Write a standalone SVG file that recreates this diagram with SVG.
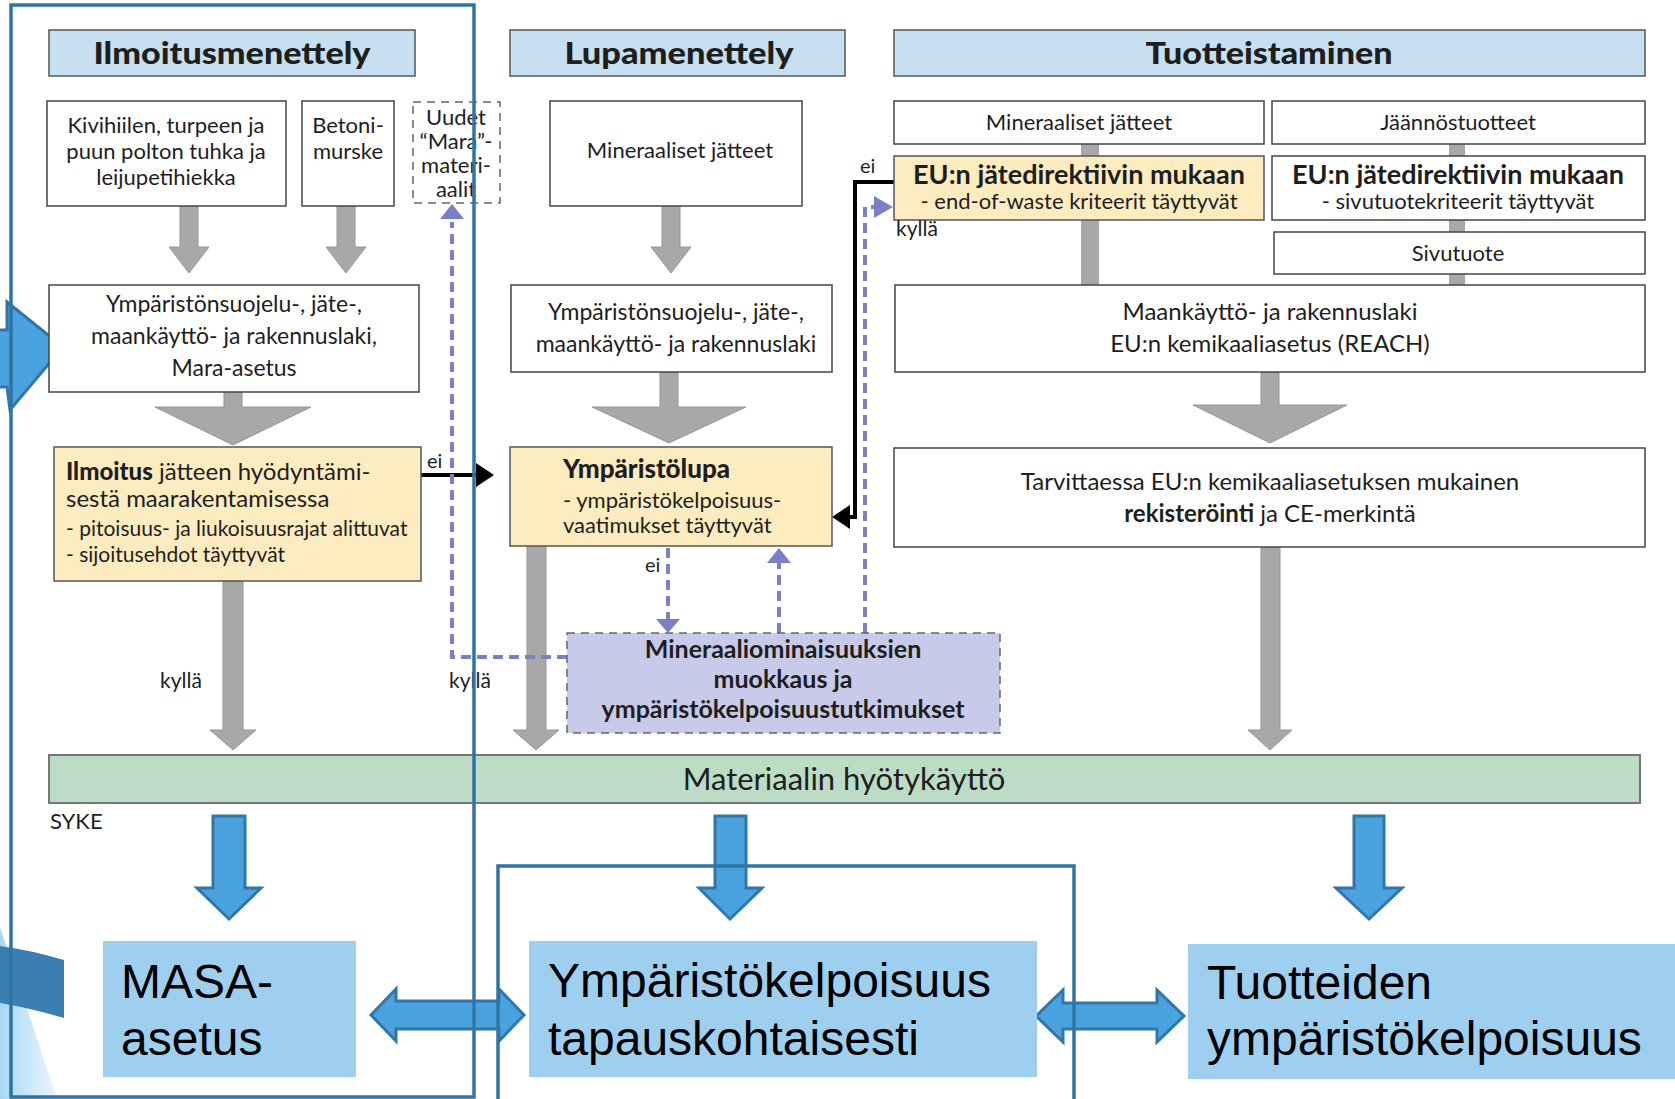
<svg xmlns="http://www.w3.org/2000/svg" width="1675" height="1099" viewBox="0 0 1675 1099">
<defs>
<style>
.t{font-family:Lato,"Liberation Sans",sans-serif;fill:#1e1e1e;font-size:22px}
.c{text-anchor:middle}
.b{font-weight:bold}
.k{font-weight:900}
.box{fill:#fff;stroke:#444;stroke-width:1.5}
.hdr{fill:#c6dff1;stroke:#555;stroke-width:1.5}
.yel{fill:#fcecbf;stroke:#555;stroke-width:1.5}
.ga{fill:#a8a8a8;stroke:#969696;stroke-width:1}
.pd{stroke:#7b7fc4;stroke-width:4;stroke-dasharray:10 6;fill:none}
.blk{stroke:#000;stroke-width:4;fill:none}
.ba{fill:#4aa3df;stroke:#3176a8;stroke-width:3;stroke-linejoin:miter}
.bb{fill:#9fcfee}
.big{font-family:"Liberation Sans",Arial,sans-serif;font-size:48px;fill:#000}
.frame{fill:none;stroke:#2e75a6;stroke-width:3.5}
</style>
<linearGradient id="lg" x1="0" y1="0" x2="1" y2="0">
<stop offset="0" stop-color="#a9d8f4"/>
<stop offset="1" stop-color="#eaf6fd"/>
</linearGradient>
</defs>
<rect width="1675" height="1099" fill="#fff"/>

<!-- background decorations -->
<g id="decor">
<polygon points="0,927 57,1099 0,1099" fill="url(#lg)"/>
<path d="M0,946 Q30,950 64,960 L64,1018 Q30,1008 0,1003 Z" fill="#3a7fb0"/>
<polygon points="-5,330 7,330 7,302 63,347 10,410 7,387 -5,387" class="ba"/>
</g>

<!-- headers -->
<g id="hdr1"><rect x="49" y="30" width="366" height="46" class="hdr"/><text x="232" y="64" class="t c k" style="font-size:30px" textLength="277" lengthAdjust="spacingAndGlyphs">Ilmoitusmenettely</text></g>
<g id="hdr2"><rect x="510" y="30" width="335" height="46" class="hdr"/><text x="679" y="64" class="t c k" style="font-size:30px" textLength="229" lengthAdjust="spacingAndGlyphs">Lupamenettely</text></g>
<g id="hdr3"><rect x="894" y="30" width="751" height="46" class="hdr"/><text x="1269" y="64" class="t c k" style="font-size:30px" textLength="247" lengthAdjust="spacingAndGlyphs">Tuotteistaminen</text></g>

<!-- gray connectors -->
<g id="connectors">
<rect x="1081" y="144" width="18" height="141" fill="#a8a8a8"/>
<rect x="1449" y="144" width="16" height="141" fill="#a8a8a8"/>
<polygon class="ga" points="180,206 198,206 198,247 209,247 189,273 169,247 180,247"/>
<polygon class="ga" points="337,206 355,206 355,247 366,247 346,273 326,247 337,247"/>
<polygon class="ga" points="662,206 680,206 680,247 691,247 671,273 651,247 662,247"/>
<polygon class="ga" points="224,392 242,392 242,407 311,407 233,445 155,407 224,407"/>
<polygon class="ga" points="660,372 678,372 678,407 746,407 669,443 592,407 660,407"/>
<polygon class="ga" points="1261,372 1279,372 1279,405 1347,405 1270,443 1193,405 1261,405"/>
<polygon class="ga" points="223,581 243,581 243,730 256,730 233,750 210,730 223,730"/>
<polygon class="ga" points="527,546 546,546 546,730 559,730 536,750 513,730 527,730"/>
<polygon class="ga" points="1261,547 1280,547 1280,730 1292,730 1270,750 1248,730 1261,730"/>

<!-- black -->
<line x1="421" y1="475" x2="478" y2="475" class="blk"/>
<polygon points="476,463 494,475 476,487" fill="#000"/>
<polyline points="894,182 855,182 855,517 848,517" class="blk"/>
<polygon points="850,505 832,517 850,529" fill="#000"/>

<!-- purple dashed -->
<polyline points="567,657 452,657 452,222" class="pd"/>
<polygon points="440,219 452,204 464,219" fill="#7b7fc4"/>
<line x1="668" y1="548" x2="668" y2="620" class="pd"/>
<polygon points="656,619 668,633 680,619" fill="#7b7fc4"/>
<line x1="779" y1="633" x2="779" y2="563" class="pd"/>
<polygon points="767,563 779,548 791,563" fill="#7b7fc4"/>
<polyline points="865,633 865,207 876,207" class="pd"/>
<polygon points="874,196 893,207 874,218" fill="#7b7fc4"/>

<!-- blue arrows -->
<polygon class="ba" points="213,816 245,816 245,888 261,888 229,919 197,888 213,888"/>
<polygon class="ba" points="715,816 746,816 746,888 762,888 730,919 699,888 715,888"/>
<polygon class="ba" points="1354,816 1384,816 1384,888 1402,888 1369,919 1336,888 1354,888"/>
<polygon class="ba" points="371,1015 396,989 396,1001 499,1001 499,989 524,1015 499,1041 499,1029 396,1029 396,1041"/>
<polygon class="ba" points="1036,1016 1063,990 1063,1003 1157,1003 1157,990 1184,1016 1157,1042 1157,1029 1063,1029 1063,1042"/>
</g>

<!-- nodes column 1 -->
<g id="n-kivi"><rect x="47" y="101" width="239" height="105" class="box"/>
<text class="t c" x="166" y="133">Kivihiilen, turpeen ja</text>
<text class="t c" x="166" y="159">puun polton tuhka ja</text>
<text class="t c" x="166" y="185">leijupetihiekka</text></g>
<g id="n-betoni"><rect x="302" y="101" width="92" height="105" class="box"/>
<text class="t c" x="348" y="133">Betoni-</text>
<text class="t c" x="348" y="159">murske</text></g>
<g id="n-uudet"><rect x="413" y="102" width="87" height="101" fill="#fff" stroke="#666" stroke-width="1.5" stroke-dasharray="8 6"/>
<text class="t c" x="456" y="125">Uudet</text>
<text class="t c" x="456" y="149">“Mara”-</text>
<text class="t c" x="456" y="173">materi-</text>
<text class="t c" x="456" y="197">aalit</text></g>
<g id="n-lait1"><rect x="49" y="285" width="370" height="107" class="box"/>
<text class="t c" x="234" y="312" style="font-size:23px">Ympäristönsuojelu-, jäte-,</text>
<text class="t c" x="234" y="344" style="font-size:23px">maankäyttö- ja rakennuslaki,</text>
<text class="t c" x="234" y="376" style="font-size:23px">Mara-asetus</text></g>
<g id="n-ilmoitus"><rect x="54" y="447" width="367" height="134" class="yel"/>
<text class="t" x="66" y="480" style="font-size:24px"><tspan class="k">Ilmoitus</tspan> jätteen hyödyntämi-</text>
<text class="t" x="66" y="507" style="font-size:24px">sestä maarakentamisessa</text>
<text class="t" x="66" y="536" style="font-size:21px">- pitoisuus- ja liukoisuusrajat alittuvat</text>
<text class="t" x="66" y="562" style="font-size:21px">- sijoitusehdot täyttyvät</text></g>

<!-- column 2 -->
<g id="n-min2"><rect x="550" y="101" width="252" height="105" class="box"/>
<text class="t c" x="680" y="158">Mineraaliset jätteet</text></g>
<g id="n-lait2"><rect x="511" y="285" width="321" height="87" class="box"/>
<text class="t c" x="676" y="320" style="font-size:23px">Ympäristönsuojelu-, jäte-,</text>
<text class="t c" x="676" y="352" style="font-size:23px">maankäyttö- ja rakennuslaki</text></g>
<g id="n-lupa"><rect x="510" y="447" width="322" height="99" class="yel"/>
<text class="t k" x="563" y="478" style="font-size:26px">Ympäristölupa</text>
<text class="t" x="563" y="508" style="font-size:22px">- ympäristökelpoisuus-</text>
<text class="t" x="563" y="533" style="font-size:22px">vaatimukset täyttyvät</text></g>
<g id="n-muokkaus"><rect x="567" y="633" width="433" height="100" fill="#c8cae9" stroke="#666" stroke-width="1.5" stroke-dasharray="8 6"/>
<text class="t c b" x="783" y="658" style="font-size:25px">Mineraaliominaisuuksien</text>
<text class="t c b" x="783" y="688" style="font-size:25px">muokkaus ja</text>
<text class="t c b" x="783" y="718" style="font-size:25px">ympäristökelpoisuustutkimukset</text></g>

<!-- column 3 -->
<g id="n-min3"><rect x="894" y="101" width="370" height="43" class="box"/>
<text class="t c" x="1079" y="130">Mineraaliset jätteet</text></g>
<g id="n-jaan"><rect x="1272" y="101" width="373" height="43" class="box"/>
<text class="t c" x="1458" y="130">Jäännöstuotteet</text></g>
<g id="n-eu1"><rect x="894" y="156" width="370" height="64" class="yel"/>
<text class="t c b" x="1079" y="184" style="font-size:27px">EU:n jätedirektiivin mukaan</text>
<text class="t c" x="1079" y="209">- end-of-waste kriteerit täyttyvät</text></g>
<g id="n-eu2"><rect x="1272" y="156" width="373" height="64" class="box"/>
<text class="t c b" x="1458" y="184" style="font-size:27px">EU:n jätedirektiivin mukaan</text>
<text class="t c" x="1458" y="209">- sivutuotekriteerit täyttyvät</text></g>
<g id="n-sivu"><rect x="1274" y="232" width="371" height="42" class="box"/>
<text class="t c" x="1458" y="261">Sivutuote</text></g>
<g id="n-maank"><rect x="895" y="285" width="750" height="87" class="box"/>
<text class="t c" x="1270" y="320" style="font-size:24px">Maankäyttö- ja rakennuslaki</text>
<text class="t c" x="1270" y="352" style="font-size:24px">EU:n kemikaaliasetus (REACH)</text></g>
<g id="n-tarv"><rect x="894" y="448" width="751" height="99" class="box"/>
<text class="t c" x="1270" y="490" style="font-size:24px">Tarvittaessa EU:n kemikaaliasetuksen mukainen</text>
<text class="t c" x="1270" y="522" style="font-size:24px"><tspan class="b">rekisteröinti</tspan> ja CE-merkintä</text></g>

<!-- green bar -->
<g id="n-hyoty"><rect x="49" y="755" width="1591" height="48" fill="#bcdcc6" stroke="#777" stroke-width="2"/>
<text class="t c" x="844" y="790" style="font-size:31px">Materiaalin hyötykäyttö</text></g>

<!-- labels -->
<g id="labels">
<text class="t" x="427" y="468" style="font-size:20px">ei</text>
<text class="t" x="860" y="173" style="font-size:20px">ei</text>
<text class="t" x="896" y="236" style="font-size:21px">kyllä</text>
<text class="t" x="645" y="572" style="font-size:20px">ei</text>
<text class="t" x="160" y="688" style="font-size:21px">kyllä</text>
<text class="t" x="449" y="688" style="font-size:21px">kyllä</text>
<text class="t" x="50" y="829" style="font-size:22px">SYKE</text>
</g>

<!-- bottom boxes -->
<g id="n-masa"><rect x="103" y="941" width="253" height="136" class="bb"/>
<text class="big" x="121" y="998">MASA-</text>
<text class="big" x="121" y="1055">asetus</text></g>
<g id="n-ymp"><rect x="529" y="941" width="508" height="136" class="bb"/>
<text class="big" x="548" y="997">Ympäristökelpoisuus</text>
<text class="big" x="548" y="1055">tapauskohtaisesti</text></g>
<g id="n-tuot"><rect x="1188" y="944" width="487" height="135" class="bb"/>
<text class="big" x="1207" y="999">Tuotteiden</text>
<text class="big" x="1207" y="1055">ympäristökelpoisuus</text></g>

<!-- frames -->
<g id="frames">
<rect x="11" y="5" width="463" height="1092" class="frame"/>
<rect x="498" y="866" width="576" height="240" class="frame"/>
</g>
</svg>
